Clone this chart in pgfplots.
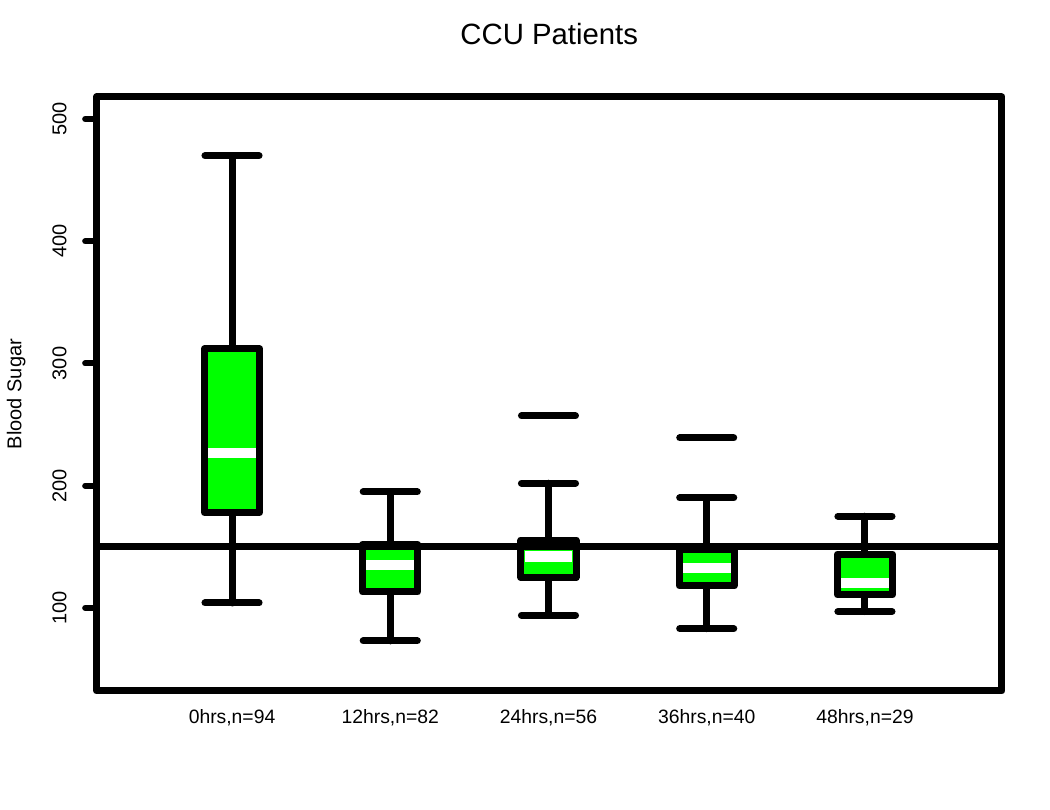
\documentclass[border=0pt]{standalone}
\usepackage{pgfplots}
\pgfplotsset{compat=1.18}
\usepgfplotslibrary{statistics}
\usepackage{fontspec}
\setmainfont{Liberation Sans}
\definecolor{rgreen}{RGB}{0,255,0}
\begin{document}
\begin{tikzpicture}
\path[use as bounding box] (0pt,0pt) rectangle (787.5pt,607.5pt);
\begin{axis}[
  at={(72.375pt,89.25pt)}, anchor=south west,
  scale only axis, width=679.1pt, height=445.5pt,
  xmin=0.1435, xmax=5.866, ymin=32, ymax=518,
  axis line style={line width=5.25pt, line join=round},
  xtick={1,2,3,4,5},
  xticklabels={0hrs{,}n=94, 12hrs{,}n=82, 24hrs{,}n=56, 36hrs{,}n=40, 48hrs{,}n=29},
  xtick style={draw=none},
  xticklabel style={font=\fontsize{14.5}{17}\selectfont, anchor=base, yshift=-15.9pt},
  ytick={100,200,300,400,500},
  ytick pos=left, tick align=outside, major tick length=8.5pt,
  ytick style={line width=4.5pt, line cap=round, black},
  yticklabel style={font=\fontsize{15}{18}\selectfont, rotate=90, anchor=base, yshift=14pt},
  /pgf/number format/assume math mode=true,
  ylabel={Blood Sugar},
  ylabel style={font=\fontsize{15}{18}\selectfont, at={(axis description cs:-0.0829,0.5)}, anchor=base, rotate=0},
  title={CCU Patients},
  title style={font=\fontsize{22}{26}\selectfont, at={(axis description cs:0.5,1.0757)}, anchor=base},
  boxplot/draw direction=y,
  boxplot/box extend=0.348,
  boxplot/whisker extend=0.342,
]
\pgfplotsset{
  mybox/.style={draw=black, line width=5.25pt, line cap=round, line join=round,
    boxplot/every box/.style={fill=rgreen, draw=black},
    boxplot/every whisker/.style={line cap=round},
    boxplot/every median/.style={draw=white, line width=7.8pt, line cap=butt, shorten <=2.7pt, shorten >=2.7pt}}
}
\addplot[mybox, boxplot prepared={draw position=1, lower whisker=104, lower quartile=178, median=226.5, upper quartile=312, upper whisker=470}] coordinates {};
\addplot[mybox, boxplot prepared={draw position=2, lower whisker=73, lower quartile=113, median=135, upper quartile=152, upper whisker=195}] coordinates {};
\addplot[mybox, boxplot prepared={draw position=3, lower whisker=94, lower quartile=125, median=142, upper quartile=155.5, upper whisker=202}] coordinates {};
\addplot[mybox, boxplot prepared={draw position=4, lower whisker=83, lower quartile=118, median=132.7, upper quartile=148, upper whisker=190}] coordinates {};
\addplot[mybox, boxplot prepared={draw position=5, lower whisker=97, lower quartile=110.6, median=120.4, upper quartile=144, upper whisker=175}] coordinates {};
\addplot[only marks, mark=-, mark size=20.25pt, mark options={line width=5.25pt, line cap=round, draw=black}] coordinates {(3,257) (4,239)};
\addplot[black, line width=5.25pt] coordinates {(0.1435,150) (5.866,150)};
\end{axis}
\end{tikzpicture}
\end{document}
